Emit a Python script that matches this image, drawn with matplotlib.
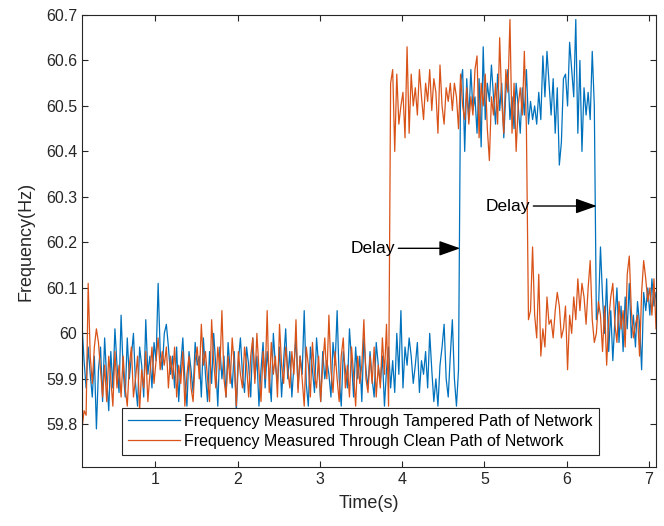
import numpy as np
import matplotlib
matplotlib.use("Agg")
import matplotlib.pyplot as plt

plt.rcParams['font.family'] = ['Liberation Sans', 'DejaVu Sans']

# sample times (s)
t_start = 0.11
t_step = 0.025
n_pts = 280

# frequency through tampered path (Hz), 20 samples per row
tampered = [
    60.02, 59.94, 59.88, 59.97, 59.91, 59.86, 59.95, 59.79, 59.92, 59.97, 59.85, 59.99, 59.90, 59.83, 59.96, 59.88, 60.01, 59.93, 59.87, 60.04,
    59.92, 59.86, 59.99, 59.90, 59.95, 60.00, 59.89, 59.84, 59.97, 59.93, 59.86, 60.03, 59.91, 59.95, 59.88, 59.98, 59.94, 60.11, 59.96, 59.92,
    60.00, 60.02, 59.97, 59.91, 59.95, 59.88, 59.97, 59.85, 59.93, 59.99, 59.90, 59.84, 59.96, 59.92, 59.87, 59.98, 59.93, 59.95, 59.86, 59.99,
    59.91, 59.85, 59.96, 59.89, 60.00, 59.93, 59.84, 59.97, 59.90, 59.95, 59.86, 59.98, 59.92, 59.88, 59.96, 59.83, 59.94, 59.99, 59.91, 59.87,
    59.97, 59.93, 59.86, 59.99, 59.90, 59.95, 59.84, 59.92, 59.98, 59.88, 59.96, 59.91, 59.85, 60.00, 59.93, 59.89, 59.97, 59.86, 59.94, 60.01,
    59.90, 59.96, 59.86, 59.93, 59.99, 59.88, 59.95, 59.91, 60.05, 59.89, 59.84, 59.97, 59.92, 59.87, 59.99, 59.93, 59.85, 59.96, 59.90, 59.94,
    59.91, 59.86, 59.98, 59.93, 60.05, 59.90, 59.84, 59.96, 59.92, 59.88, 60.01, 59.94, 59.86, 59.97, 59.90, 59.95, 59.85, 59.99, 59.92, 59.88,
    59.96, 59.90, 59.86, 59.98, 59.93, 59.89, 59.95, 59.84, 59.92, 59.97, 59.88, 59.94, 59.87, 60.00, 59.91, 60.05, 59.88, 59.97, 59.93, 59.99,
    59.95, 59.89, 59.93, 59.98, 59.87, 59.94, 59.91, 59.96, 59.88, 60.00, 59.92, 59.85, 59.90, 59.84, 59.93, 59.97, 60.02, 59.90, 59.86, 59.95,
    60.03, 59.90, 59.84, 59.92, 60.55, 60.58, 60.40, 60.56, 60.47, 60.58, 60.49, 60.52, 60.44, 60.56, 60.41, 60.63, 60.47, 60.55, 60.51, 60.59,
    60.52, 60.46, 60.57, 60.49, 60.55, 60.43, 60.53, 60.58, 60.47, 60.52, 60.45, 60.55, 60.50, 60.44, 60.54, 60.48, 60.58, 60.46, 60.51, 60.47,
    60.50, 60.46, 60.53, 60.47, 60.61, 60.52, 60.62, 60.55, 60.48, 60.56, 60.44, 60.54, 60.37, 60.42, 60.56, 60.57, 60.50, 60.64, 60.58, 60.52,
    60.69, 60.44, 60.60, 60.40, 60.54, 60.48, 60.53, 60.47, 60.62, 60.50, 60.03, 60.05, 60.19, 60.08, 60.00, 60.12, 59.96, 60.05, 59.94, 60.03,
    60.10, 59.98, 60.06, 59.96, 60.08, 60.01, 60.11, 59.99, 60.04, 59.97, 60.07, 60.02, 59.92, 60.09, 60.05, 60.10, 60.04, 60.12, 60.06, 60.09,
]

# frequency through clean path (Hz)
clean = [
    59.79, 59.83, 59.82, 60.11, 59.95, 59.89, 59.97, 60.01, 59.98, 59.92, 59.86, 59.93, 59.85, 59.95, 59.90, 59.84, 59.96, 59.88, 59.93, 59.86,
    59.95, 59.88, 59.84, 59.93, 59.97, 59.86, 59.90, 59.95, 59.83, 59.92, 59.88, 59.96, 59.85, 59.91, 59.97, 59.89, 59.94, 59.99, 59.92, 59.96,
    59.93, 59.97, 59.88, 59.95, 59.90, 59.97, 59.86, 59.93, 59.89, 59.96, 59.84, 59.91, 59.95, 59.88, 59.85, 59.94, 59.97, 59.90, 60.02, 59.93,
    59.96, 59.90, 59.85, 60.03, 59.94, 59.88, 59.97, 59.92, 60.05, 59.90, 59.86, 59.95, 59.89, 59.99, 59.93, 59.84, 59.96, 59.91, 59.88, 59.97,
    59.93, 59.86, 59.95, 59.99, 59.89, 60.00, 59.92, 59.85, 59.96, 59.90, 60.05, 59.87, 59.98, 59.91, 59.95, 59.86, 60.02, 59.93, 59.89, 59.97,
    59.92, 59.88, 59.96, 59.91, 60.03, 59.87, 59.95, 59.90, 59.84, 59.97, 59.93, 59.86, 59.98, 59.91, 59.88, 59.95, 59.85, 59.93, 59.99, 59.90,
    60.04, 59.92, 59.87, 59.96, 59.90, 59.85, 59.95, 59.99, 59.88, 59.93, 59.86, 59.97, 59.91, 59.84, 59.95, 59.89, 59.93, 60.03, 59.90, 59.87,
    59.95, 59.89, 59.97, 59.86, 59.93, 59.88, 59.99, 59.91, 60.02, 59.84, 60.55, 60.58, 60.40, 60.57, 60.46, 60.50, 60.53, 60.43, 60.63, 60.44,
    60.57, 60.50, 60.54, 60.48, 60.58, 60.52, 60.47, 60.55, 60.51, 60.58, 60.49, 60.56, 60.53, 60.44, 60.59, 60.50, 60.46, 60.54, 60.51, 60.55,
    60.49, 60.55, 60.52, 60.45, 60.57, 60.50, 60.47, 60.54, 60.46, 60.52, 60.48, 60.58, 60.61, 60.43, 60.55, 60.50, 60.57, 60.45, 60.38, 60.52,
    60.48, 60.55, 60.46, 60.65, 60.51, 60.44, 60.58, 60.53, 60.69, 60.44, 60.55, 60.40, 60.50, 60.54, 60.48, 60.62, 60.45, 60.03, 60.05, 60.19,
    60.04, 59.99, 60.13, 59.95, 60.01, 59.97, 60.08, 60.02, 60.03, 59.99, 60.05, 60.09, 60.06, 59.99, 60.01, 60.06, 59.92, 60.04, 60.00, 60.08,
    60.03, 60.12, 60.05, 60.11, 60.08, 60.02, 60.10, 60.16, 60.03, 59.98, 60.00, 60.07, 60.04, 59.96, 60.06, 59.93, 60.03, 60.08, 60.11, 60.02,
    59.98, 60.07, 60.01, 60.05, 59.97, 60.13, 60.17, 60.05, 59.99, 60.02, 60.04, 59.95, 60.09, 60.16, 60.12, 60.07, 60.10, 60.04, 60.12, 60.01,
]

# delay arrows: (text x, text y, tip x, tip y)
delay_1 = (3.92, 60.187, 4.705, 60.187)
delay_2 = (5.56, 60.28, 6.365, 60.28)

yticks = [59.8, 59.9, 60.0, 60.1, 60.2, 60.3, 60.4, 60.5, 60.6, 60.7]
ytick_labels = ["59.8", "59.9", "60", "60.1", "60.2", "60.3", "60.4", "60.5", "60.6", "60.7"]
xticks = [1, 2, 3, 4, 5, 6, 7]

t = t_start + t_step * np.arange(n_pts)

fig = plt.figure(figsize=(6.64, 5.26), dpi=100)
ax = fig.add_axes([0.1235, 0.112, 0.8645, 0.8595])

ax.plot(t, tampered, color="#0072BD", lw=0.9, label="Frequency Measured Through Tampered Path of Network")
ax.plot(t, clean, color="#D95319", lw=0.9, label="Frequency Measured Through Clean Path of Network")

ax.set_xlim(0.11, 7.085)
ax.set_ylim(59.706, 60.7)
ax.set_xticks(xticks)
ax.set_yticks(yticks)
ax.set_yticklabels(ytick_labels)
ax.tick_params(direction="in", top=True, right=True, labelsize=11.5, colors="#262626", length=4)
for sp in ax.spines.values():
    sp.set_color("#262626")
    sp.set_linewidth(0.8)

ax.set_xlabel("Time(s)", fontsize=13, color="#262626", labelpad=6)
ax.set_ylabel("Frequency(Hz)", fontsize=13, color="#262626", labelpad=8)

for tx, ty, hx, hy in (delay_1, delay_2):
    ax.annotate("Delay", xy=(hx, hy), xytext=(tx, ty), fontsize=12.5,
                ha="right", va="center",
                arrowprops=dict(arrowstyle="-|>,head_length=0.65,head_width=0.23",
                                color="k", lw=1.0, mutation_scale=20,
                                shrinkA=0, shrinkB=0))

leg = ax.legend(loc="lower left", bbox_to_anchor=(0.0697, 0.0265), borderaxespad=0,
                fontsize=11.5, fancybox=False, framealpha=1, edgecolor="#262626",
                handlelength=3.25, borderpad=0.4, labelspacing=0.3, handletextpad=0.25)
leg.get_frame().set_linewidth(0.8)

fig.savefig("out.png", dpi=100)
